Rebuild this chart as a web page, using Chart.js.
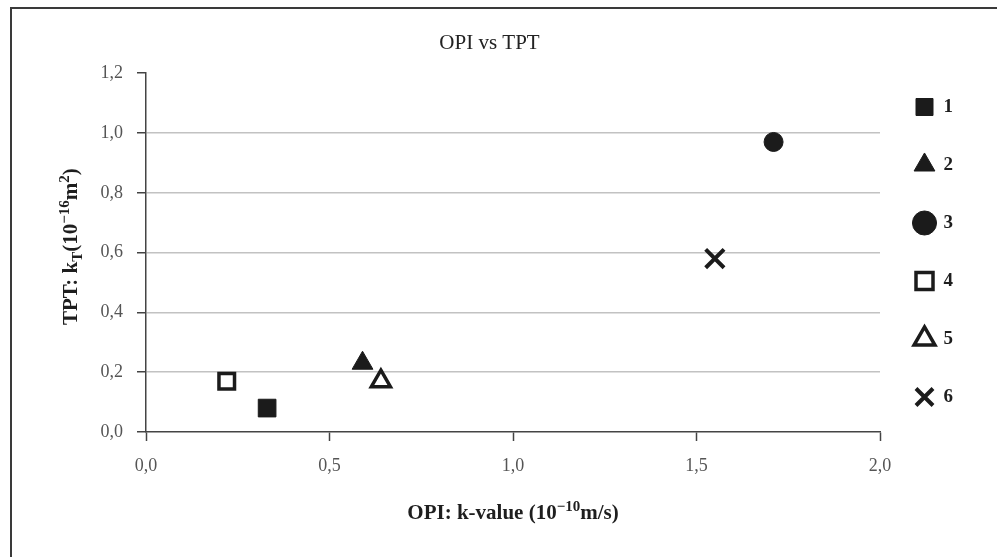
<!DOCTYPE html>
<html>
<head>
<meta charset="utf-8">
<script src="https://cdn.jsdelivr.net/npm/chart.js@4"></script>
<style>
  html, body { margin: 0; padding: 0; background: #fff; }
  canvas { display: block; }
</style>
</head>
<body>
<canvas id="chart" width="997" height="557"></canvas>
<script>
// sample labels and measured values
const seriesNames = ['1', '2', '3', '4', '5', '6'];
const opiValues = [0.33, 0.59, 1.71, 0.22, 0.64, 1.55];   // OPI k-value (1e-10 m/s)
const tptValues = [0.08, 0.23, 0.97, 0.17, 0.17, 0.58];   // TPT kT (1e-16 m2)

// marker look per sample
const markerStyles = ['rect', 'triangle', 'circle', 'rect', 'triangle', 'crossRot'];
const markerFills  = ['#1b1b1b', '#1b1b1b', '#1b1b1b', '#ffffff', '#ffffff', '#1b1b1b'];
const markerRadius = [12.5, 12, 9.5, 11, 11, 13];
const markerBorder = [1, 1, 1, 3.5, 3.5, 4];

const serif = "'Liberation Serif', 'Times New Roman', serif";

// axis titles with sub/superscripts
const yTitleParts = [
    { t: 'TPT: k' }, { t: 'T', sub: true }, { t: '(10' },
    { t: '\u221216', sup: true }, { t: 'm' }, { t: '2', sup: true }, { t: ')' }
];
const xTitleParts = [
    { t: 'OPI: k-value (10' }, { t: '\u221210', sup: true }, { t: 'm/s)' }
];

function drawRichText(ctx, parts, cx, cy) {
    const base = 'bold 21px ' + serif;
    const small = 'bold 15px ' + serif;
    let total = 0;
    parts.forEach(p => {
        ctx.font = (p.sup || p.sub) ? small : base;
        p.w = ctx.measureText(p.t).width;
        total += p.w;
    });
    let x = cx - total / 2;
    parts.forEach(p => {
        ctx.font = (p.sup || p.sub) ? small : base;
        let dy = 0;
        if (p.sup) dy = -7;
        if (p.sub) dy = 6;
        ctx.fillText(p.t, x, cy + dy);
        x += p.w;
    });
}

const framePlugin = {
    id: 'frame',
    beforeDraw(chart) {
        const ctx = chart.ctx;
        ctx.save();
        ctx.fillStyle = '#fff';
        ctx.fillRect(0, 0, chart.width, chart.height);
        ctx.strokeStyle = '#3a3a3a';
        ctx.lineWidth = 2;
        ctx.beginPath();
        ctx.moveTo(11, chart.height);
        ctx.lineTo(11, 8);
        ctx.lineTo(chart.width, 8);
        ctx.stroke();
        ctx.restore();
    }
};

const axisTitlePlugin = {
    id: 'axisTitles',
    afterDraw(chart) {
        const ctx = chart.ctx;
        const area = chart.chartArea;
        ctx.save();
        ctx.fillStyle = '#1e1e1e';
        ctx.textBaseline = 'middle';
        ctx.textAlign = 'left';
        drawRichText(ctx, xTitleParts, (area.left + area.right) / 2, 514);
        ctx.translate(72, (area.top + area.bottom) / 2 - 6);
        ctx.rotate(-Math.PI / 2);
        drawRichText(ctx, yTitleParts, 0, 0);
        ctx.restore();
    }
};

// move the legend column up and slightly toward the plot
const legendShift = {
    id: 'legendShift',
    afterLayout(chart) {
        const lg = chart.legend;
        lg.left -= 4;
        lg.right -= 4;
        lg.top -= 24;
        lg.bottom -= 24;
    }
};

const datasets = seriesNames.map((name, i) => ({
    label: name,
    data: [{ x: opiValues[i], y: tptValues[i] }],
    pointStyle: markerStyles[i],
    pointRadius: markerRadius[i],
    pointHoverRadius: markerRadius[i],
    pointBackgroundColor: markerFills[i],
    pointBorderColor: '#1b1b1b',
    pointBorderWidth: markerBorder[i],
    backgroundColor: markerFills[i],
    borderColor: '#1b1b1b',
    borderWidth: markerBorder[i]
}));

const commaLabel = v => v.toFixed(1).replace('.', ',');

new Chart(document.getElementById('chart'), {
    type: 'scatter',
    data: { datasets: datasets },
    options: {
        responsive: false,
        animation: false,
        devicePixelRatio: 1,
        layout: { padding: { left: 12, right: 30, top: 0, bottom: 5 } },
        plugins: {
            title: {
                display: true,
                text: 'OPI vs TPT',
                color: '#222',
                font: { family: serif, size: 21, weight: 'normal' },
                padding: { top: 31, bottom: 17 }
            },
            legend: {
                position: 'right',
                labels: {
                    usePointStyle: true,
                    boxHeight: 17,
                    padding: 39,
                    color: '#1e1e1e',
                    font: { family: serif, size: 19, weight: 'bold' }
                }
            },
            tooltip: { enabled: false }
        },
        scales: {
            x: {
                type: 'linear',
                min: 0,
                max: 2,
                afterFit: scale => { scale.height = 120; },
                ticks: {
                    stepSize: 0.5,
                    padding: 14,
                    color: '#555',
                    font: { family: serif, size: 18 },
                    callback: commaLabel
                },
                grid: {
                    drawOnChartArea: false,
                    tickLength: 9,
                    tickColor: '#444',
                    tickWidth: 1.5
                },
                border: { color: '#444', width: 1.5 }
            },
            y: {
                type: 'linear',
                min: 0,
                max: 1.2,
                afterFit: scale => { scale.width = 134; },
                ticks: {
                    stepSize: 0.2,
                    padding: 14,
                    color: '#555',
                    font: { family: serif, size: 18 },
                    callback: commaLabel
                },
                grid: {
                    color: c => (c.tick && c.tick.value > 0.01 && c.tick.value < 1.19) ? '#c2c2c2' : 'rgba(0,0,0,0)',
                    lineWidth: 1.5,
                    tickLength: 9,
                    tickColor: '#444',
                    tickWidth: 1.5
                },
                border: { color: '#444', width: 1.5 }
            }
        }
    },
    plugins: [framePlugin, axisTitlePlugin, legendShift]
});
</script>
</body>
</html>
